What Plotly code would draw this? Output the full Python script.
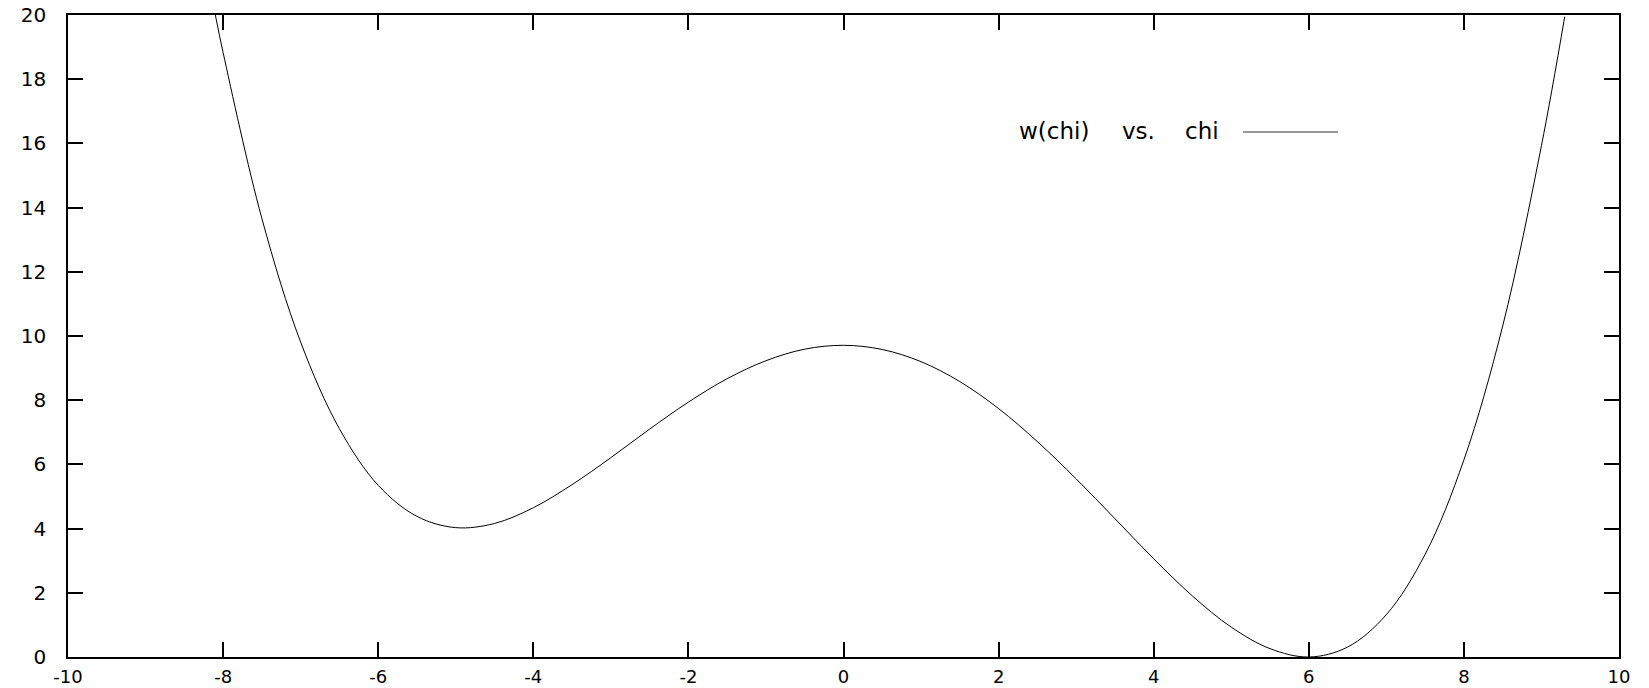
import plotly.graph_objects as go

# values
chi = [-8.1, -8.0, -7.5, -7.0, -6.5, -6.0, -5.5, -5.0, -4.5, -4.0, -3.5, -3.0, -2.5, -2.0,
       -1.5, -1.0, -0.5, 0.0, 0.5, 1.0, 1.5, 2.0, 2.5, 3.0, 3.5, 4.0, 4.5, 5.0, 5.5,
       6.0, 6.5, 7.0, 7.5, 8.0, 8.5, 9.0, 9.3]
w_chi = [20.0, 18.83, 13.66, 9.81, 7.11, 5.35, 4.38, 4.03, 4.16, 4.65, 5.37, 6.21, 7.10, 7.94,
         8.67, 9.23, 9.59, 9.71, 9.58, 9.20, 8.58, 7.74, 6.71, 5.55, 4.31, 3.06, 1.90, 0.93, 0.26,
         0.0, 0.31, 1.32, 3.20, 6.14, 10.31, 15.93, 19.95]

x_ticks = [-10, -8, -6, -4, -2, 0, 2, 4, 6, 8, 10]
y_ticks = [0, 2, 4, 6, 8, 10, 12, 14, 16, 18, 20]
key_words = ["w(chi)", "vs.", "chi"]

FONT = "DejaVu Sans"
W, H = 1649, 688
ML, MR, MT, MB = 68, 30, 15, 31
PW, PH = W - ML - MR, H - MT - MB


def px_to_paper_x(px):
    return (px - ML) / PW


def px_to_paper_y(py):
    return (H - MB - py) / PH


fig = go.Figure()
fig.add_trace(go.Scatter(x=chi, y=w_chi, mode="lines", name=" ".join(key_words),
                         line=dict(color="#000000", width=1, shape="spline", smoothing=1.0),
                         showlegend=False))

axis_common = dict(showgrid=False, zeroline=False, showline=True, linecolor="#000000",
                   linewidth=1.5, mirror="ticks", ticks="inside", ticklen=15, tickwidth=1.5,
                   tickcolor="#000000", automargin=False)

fig.update_xaxes(range=[-10, 10], tickvals=x_ticks, ticktext=[str(v) for v in x_ticks],
                 ticklabelstandoff=3, tickfont=dict(family=FONT, size=18, color="#000000"),
                 **axis_common)
fig.update_yaxes(range=[0, 20], tickvals=y_ticks, ticktext=[str(v) for v in y_ticks],
                 ticklabelstandoff=16, tickfont=dict(family=FONT, size=20, color="#000000"),
                 **axis_common)

# key (words followed by line sample, gnuplot style)
key_centers_px = [1054, 1138, 1202]
key_y = px_to_paper_y(131)
for word, cx in zip(key_words, key_centers_px):
    fig.add_annotation(xref="paper", yref="paper", x=px_to_paper_x(cx), y=key_y,
                       xanchor="center", yanchor="middle", text=word, showarrow=False,
                       font=dict(family=FONT, size=23, color="#000000"))
fig.add_shape(type="line", xref="paper", yref="paper", x0=px_to_paper_x(1243), x1=px_to_paper_x(1338),
              y0=px_to_paper_y(132), y1=px_to_paper_y(132),
              line=dict(color="#777777", width=1.5))

fig.update_layout(width=W, height=H, paper_bgcolor="#ffffff", plot_bgcolor="#ffffff",
                  margin=dict(l=ML, r=MR, t=MT, b=MB, autoexpand=False), showlegend=False)

fig.write_html("out.html")
